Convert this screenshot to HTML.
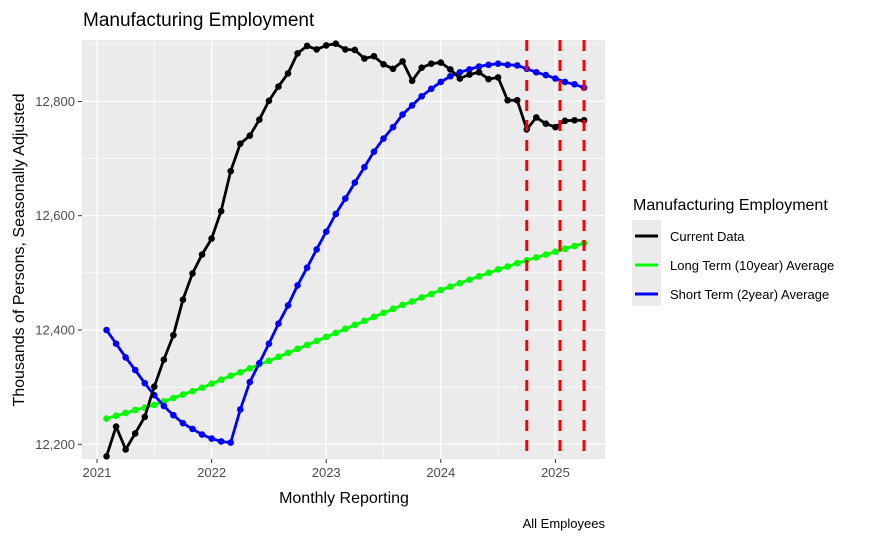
<!DOCTYPE html>
<html><head><meta charset="utf-8"><style>
body{margin:0;background:#fff;}
svg{display:block;font-family:"Liberation Sans",Arial,sans-serif;}
</style></head><body>
<svg id="chart" width="875" height="540" viewBox="0 0 875 540" xmlns="http://www.w3.org/2000/svg">
<rect width="875" height="540" fill="#fff"/>
<text x="83" y="26" font-size="19">Manufacturing Employment</text>
<rect x="82" y="40" width="523" height="419" fill="#ebebeb"/>
<g id="grid"></g>
<g id="series"></g>
<g id="axes"></g>
<text transform="translate(24,250) rotate(-90)" text-anchor="middle" font-size="16">Thousands of Persons, Seasonally Adjusted</text>
<text x="344" y="503" text-anchor="middle" font-size="16">Monthly Reporting</text>
<text x="605" y="528" text-anchor="end" font-size="13">All Employees</text>
<g>
<text x="633" y="210" font-size="16">Manufacturing Employment</text>
<rect x="632" y="220" width="29" height="86" fill="#ebebeb"/>
<g><line x1="635" x2="658" y1="236" y2="236" stroke="#000" stroke-width="3"/><text x="670" y="241" font-size="13">Current Data</text></g>
<g><line x1="635" x2="658" y1="265" y2="265" stroke="#00ff00" stroke-width="3"/><text x="670" y="270" font-size="13">Long Term (10year) Average</text></g>
<g><line x1="635" x2="658" y1="294" y2="294" stroke="#0000ff" stroke-width="3"/><text x="670" y="299" font-size="13">Short Term (2year) Average</text></g>
</g>
</svg>
<script>
const startYear = 2021 + 1/12;
const currentData = [12179,12231,12191,12219,12248,12301,12348,12391,12453,12499,12532,12560,12608,12678,12726,12740,12768,12801,12826,12849,12884,12897,12891,
12898,12901,12891,12890,12875,12879,12865,12857,12870,12836,12859,12866,12868,12856,12840,12847,12851,12839,12842,12802,12802,12751,12772,12761,12755,12766,12767,12767];
const longTerm = [12245,12250,12255,12260,12264,12269,12275,12281,12287,12293,12299,12306,12313,12320,12326,12333,12340,12346,12353,12360,12367,12374,12381,12388,12395,12402,12409,12416,12423,12430,12437,12444,12450,12457,12463,12470,12476,12482,12488,12494,12500,12506,12511,12517,12522,12527,12532,12537,12542,12547,12552];
const shortTerm = [12400,12376,12352,12330,12307,12286,12267,12251,12237,12227,12217,12210,12205,12203,12261,12309,12342,12376,12411,12443,12478,12509,12541,
12572,12603,12630,12658,12685,12712,12735,12755,12777,12793,12809,12822,12834,12844,12851,12856,12861,12864,12866,12864,12863,12857,12851,12846,12840,12834,12830,12824];
const vlines = [2024.75, 2025.04, 2025.25];
const yTicks = [12200,12400,12600,12800];
const xTicks = [2021,2022,2023,2024,2025];

const NS="http://www.w3.org/2000/svg";
const xs = y => 97 + (y-2021)*114.6;
const ys = v => 444.3 - (v-12200)*0.5715;
function mk(tag, attrs, parent){const e=document.createElementNS(NS,tag);for(const k in attrs)e.setAttribute(k,attrs[k]);parent.appendChild(e);return e;}
const grid=document.getElementById('grid'), ser=document.getElementById('series'), ax=document.getElementById('axes');
// minor grid
for(let i=0;i<yTicks.length-1;i++){const v=(yTicks[i]+yTicks[i+1])/2;const l=mk('line',{x1:82,x2:605,y1:ys(v),y2:ys(v),stroke:'#fff','stroke-width':0.6},grid);

}
{const v=12900;const l=mk('line',{x1:82,x2:605,y1:ys(v),y2:ys(v),stroke:'#fff','stroke-width':0.6},grid);

}
for(let i=0;i<xTicks.length;i++){const v=xTicks[i]+0.5;const l=mk('line',{x1:xs(v),x2:xs(v),y1:40,y2:459,stroke:'#fff','stroke-width':0.6},grid);

}
yTicks.forEach(v=>{const l=mk('line',{x1:82,x2:605,y1:ys(v),y2:ys(v),stroke:'#fff','stroke-width':1.2},grid);


const t=mk('line',{x1:78,x2:82,y1:ys(v),y2:ys(v),stroke:'#333','stroke-width':1},ax);


const tx=mk('text',{x:75,y:ys(v)+4.5,'text-anchor':'end','font-size':13,fill:'#4d4d4d'},ax);tx.textContent=v.toLocaleString('en-US');

});
xTicks.forEach(v=>{const l=mk('line',{x1:xs(v),x2:xs(v),y1:40,y2:459,stroke:'#fff','stroke-width':1.2},grid);


const t=mk('line',{x1:xs(v),x2:xs(v),y1:459,y2:463,stroke:'#333','stroke-width':1},ax);


const tx=mk('text',{x:xs(v),y:477,'text-anchor':'middle','font-size':13,fill:'#4d4d4d'},ax);tx.textContent=v;

});
function series(arr,color,name,r){
  const pts=arr.map((v,i)=>xs(startYear+i/12).toFixed(1)+','+ys(v).toFixed(1)).join(' ');
  const p=mk('polyline',{points:pts,fill:'none',stroke:color,'stroke-width':2.8,'stroke-linejoin':'round'},ser);
  
  
  arr.forEach((v,i)=>{const c=mk('circle',{cx:xs(startYear+i/12),cy:ys(v),r:r,fill:color},ser);
  
  });
}
series(longTerm,'#00ff00','long-term',3.3);
series(shortTerm,'#0000ff','short-term',3.3);
series(currentData,'#000000','current-data',3.3);
vlines.forEach(v=>{const l=mk('line',{x1:xs(v),x2:xs(v),y1:40,y2:459,stroke:'#ff0000','stroke-width':3,'stroke-dasharray':'11,9'},ser);

});
</script>
</body></html>
